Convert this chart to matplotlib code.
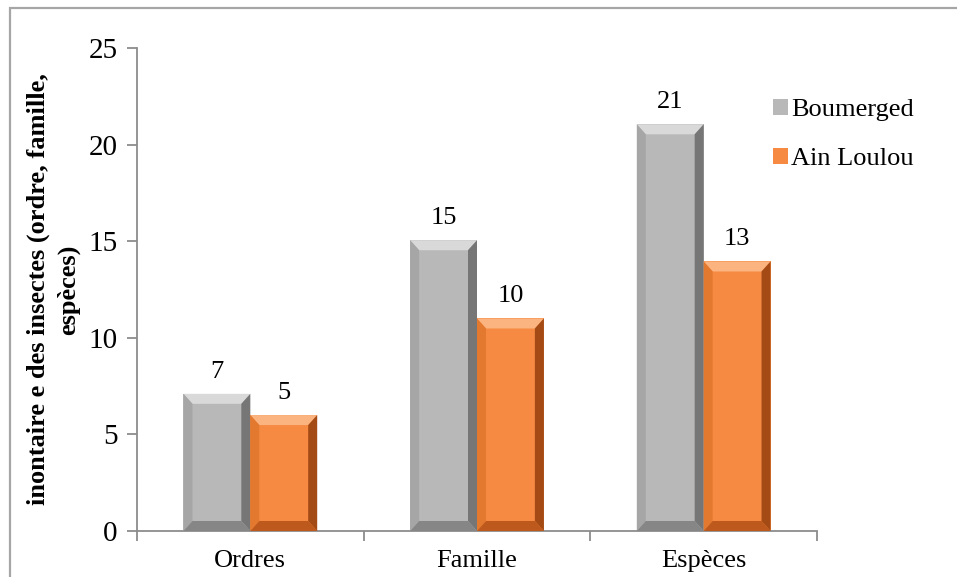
import matplotlib
matplotlib.use("Agg")
import matplotlib.pyplot as plt
import numpy as np
from matplotlib.patches import Polygon, Rectangle

# ---- data ---------------------------------------------------------------
categories = ["Ordres", "Famille", "Espèces"]
series_names = ["Boumerged", "Ain Loulou"]
boumerged = [7.1, 15.05, 21.05]        # bar heights as drawn
ain_loulou = [6.0, 11.0, 13.95]
boumerged_labels = ["7", "15", "21"]   # data labels as printed
ain_loulou_labels = ["5", "10", "13"]
y_ticks = [0, 5, 10, 15, 20, 25]

ylabel = "inontaire e des insectes (ordre, famille,\nespèces)"

# colours: face, top, left, right, bottom facets of the bevel
GRAY = ["#b8b8b8", "#d9d9d9", "#a6a6a6", "#767676", "#868686"]
ORANGE = ["#f68a42", "#fbb480", "#e3792f", "#a34a15", "#bd591d"]

plt.rcParams["font.family"] = ["Liberation Serif", "DejaVu Serif"]

W, H, DPI = 957, 577, 100
fig = plt.figure(figsize=(W / DPI, H / DPI), dpi=DPI)
ax = fig.add_axes([137 / W, 1 - 531 / H, 680 / W, 483 / H])

x = np.arange(len(categories))
bw = 0.295
ax.set_xlim(-0.5, len(categories) - 0.5)
ax.set_ylim(0, 25)


def bevel_bars(xpos, heights, colors):
    bars = ax.bar(xpos, heights, width=bw, color=colors[0], linewidth=0, zorder=2)
    # bevel size in data units from a few pixels
    px_x = (ax.transData.transform((1, 0))[0] - ax.transData.transform((0, 0))[0])
    px_y = (ax.transData.transform((0, 1))[1] - ax.transData.transform((0, 0))[1])
    dx, dy = 9 / px_x, 10 / px_y
    for b in bars:
        x0, y0 = b.get_x(), b.get_y()
        x1, y1 = x0 + b.get_width(), y0 + b.get_height()
        facets = [
            ([(x0, y1), (x1, y1), (x1 - dx, y1 - dy), (x0 + dx, y1 - dy)], colors[1]),
            ([(x0, y0), (x0, y1), (x0 + dx, y1 - dy), (x0 + dx, y0 + dy)], colors[2]),
            ([(x1, y0), (x1, y1), (x1 - dx, y1 - dy), (x1 - dx, y0 + dy)], colors[3]),
            ([(x0, y0), (x1, y0), (x1 - dx, y0 + dy), (x0 + dx, y0 + dy)], colors[4]),
        ]
        for pts, c in facets:
            ax.add_patch(Polygon(pts, closed=True, facecolor=c, edgecolor="none", zorder=3))
    return bars


b1 = bevel_bars(x - bw / 2, boumerged, GRAY)
b2 = bevel_bars(x + bw / 2, ain_loulou, ORANGE)

for xi, h, t in zip(x - bw / 2, boumerged, boumerged_labels):
    ax.annotate(t, (xi, h), xytext=(0, 8), textcoords="offset points",
                ha="center", va="bottom", fontsize=19)
for xi, h, t in zip(x + bw / 2, ain_loulou, ain_loulou_labels):
    ax.annotate(t, (xi, h), xytext=(0, 8), textcoords="offset points",
                ha="center", va="bottom", fontsize=19)

# axes styling
for s in ["top", "right"]:
    ax.spines[s].set_visible(False)
for s in ["left", "bottom"]:
    ax.spines[s].set_color("#8c8c8c")
    ax.spines[s].set_linewidth(1.3)

ax.set_yticks(y_ticks)
ax.tick_params(axis="y", direction="out", length=7, width=1.3, color="#8c8c8c",
               labelsize=21, pad=7)
ax.set_xticks(np.arange(len(categories) + 1) - 0.5)
ax.set_xticklabels([])
ax.tick_params(axis="x", which="major", direction="out", length=7, width=1.3,
               color="#8c8c8c")
ax.set_xticks(x, minor=True)
ax.set_xticklabels(categories, minor=True)
ax.tick_params(axis="x", which="minor", length=0, labelsize=19, pad=14)

ax.set_ylabel(ylabel, fontsize=19, fontweight="bold", linespacing=1.35)
ax.yaxis.set_label_coords(-0.084, 0.5)

leg = ax.legend([b1, b2], series_names, loc="upper left",
                bbox_to_anchor=(762 / W, 1 - 88 / H), bbox_transform=fig.transFigure,
                frameon=False, fontsize=19, handlelength=0.6, handleheight=0.6,
                handletextpad=0.1, labelspacing=1.0, borderaxespad=0)

# outer chart frame (extends past the right and bottom edges)
fig.patches.append(Rectangle((10 / W, -0.05), 1.2, 1 - 8 / H + 0.05,
                             transform=fig.transFigure, fill=False,
                             edgecolor="#a6a6a6", linewidth=1.6))

fig.savefig("out.png", dpi=DPI)
